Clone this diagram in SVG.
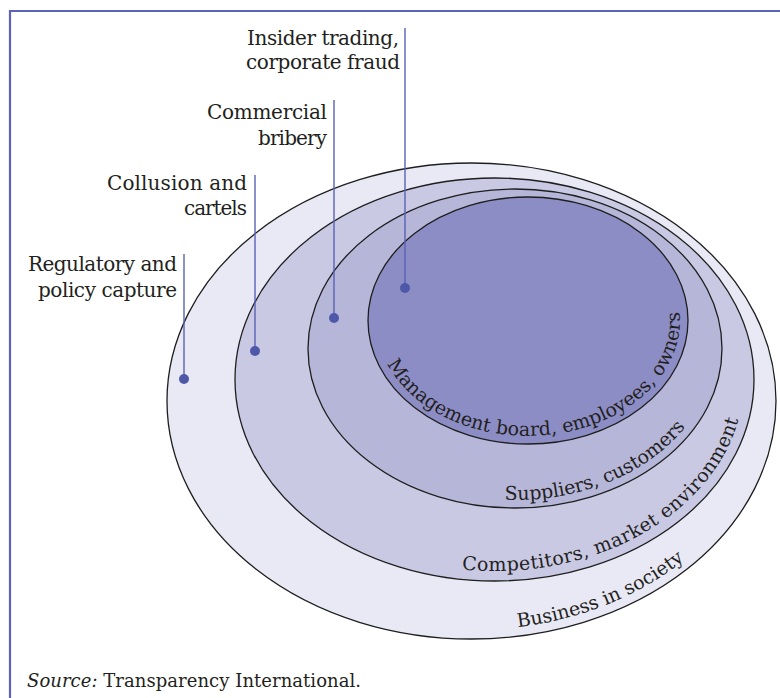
<svg xmlns="http://www.w3.org/2000/svg" width="780" height="698" viewBox="0 0 780 698">
<style>
.ring{stroke:#1e1e1e;stroke-width:1.3}
.lbl{font-family:"DejaVu Serif","Liberation Serif",serif;font-size:19px;fill:#231f20}
.side{text-anchor:end;font-size:20px}
.lead{stroke:#5a62b5;stroke-width:1.4;fill:none}
.dot{fill:#4e58a8}
.frame{stroke:#5b63b7;stroke-width:2.2;fill:none}
</style>
<defs>
<path id="pMgmt" d="M387.1,363.8 A152,115.5 0 0 0 674.8,290.6"/>
<path id="pSupp" d="M504.6,499.8 A199,151.5 0 0 0 711,374.8"/>
<path id="pComp" d="M461.9,569.4 A249.5,191.5 0 0 0 744,379.5"/>
<path id="pBus" d="M517.7,627.2 A295.5,229 0 0 0 749.2,479.3"/>
</defs>
<rect width="780" height="698" fill="#ffffff"/>
<g id="frame">
<path class="frame" d="M10,698 V11 H780"/>
</g>
<g id="business">
<ellipse class="ring" cx="471.5" cy="401" rx="304.5" ry="238" fill="#e9e9f5"/>
<text class="lbl"><textPath href="#pBus" textLength="182">Business in society</textPath></text>
</g>
<g id="competitors">
<ellipse class="ring" cx="494.5" cy="379.5" rx="259.5" ry="201.5" fill="#c9c9e4"/>
<text class="lbl"><textPath href="#pComp" textLength="340">Competitors, market environment</textPath></text>
</g>
<g id="suppliers">
<ellipse class="ring" cx="515" cy="348.5" rx="207" ry="159.5" fill="#b6b6d9"/>
<text class="lbl"><textPath href="#pSupp" textLength="202">Suppliers, customers</textPath></text>
</g>
<g id="management">
<ellipse class="ring" cx="528" cy="320.5" rx="160" ry="123.5" fill="#8c8dc5"/>
<text class="lbl"><textPath href="#pMgmt" textLength="385">Management board, employees, owners</textPath></text>
</g>
<g id="connectors">
<line class="lead" x1="184" y1="254" x2="184" y2="379"/>
<line class="lead" x1="255" y1="175" x2="255" y2="351"/>
<line class="lead" x1="334" y1="100" x2="334" y2="318"/>
<line class="lead" x1="405" y1="28" x2="405" y2="288"/>
<circle class="dot" cx="184" cy="379" r="5"/>
<circle class="dot" cx="255" cy="351" r="5"/>
<circle class="dot" cx="334" cy="318" r="5"/>
<circle class="dot" cx="405" cy="288" r="5"/>
</g>
<g id="label-insider">
<text class="lbl side" x="399" y="45" textLength="152">Insider trading,</text>
<text class="lbl side" x="400" y="69" textLength="154">corporate fraud</text>
</g>
<g id="label-bribery">
<text class="lbl side" x="327" y="119" textLength="120">Commercial</text>
<text class="lbl side" x="327" y="145" textLength="69">bribery</text>
</g>
<g id="label-collusion">
<text class="lbl side" x="247" y="190" textLength="140">Collusion and</text>
<text class="lbl side" x="247" y="215" textLength="63">cartels</text>
</g>
<g id="label-regulatory">
<text class="lbl side" x="177" y="271" textLength="149">Regulatory and</text>
<text class="lbl side" x="177" y="297" textLength="139">policy capture</text>
</g>
<g id="source">
<text class="lbl" x="27" y="687" style="font-size:18px" textLength="334"><tspan font-style="italic">Source:</tspan> Transparency International.</text>
</g>
</svg>
